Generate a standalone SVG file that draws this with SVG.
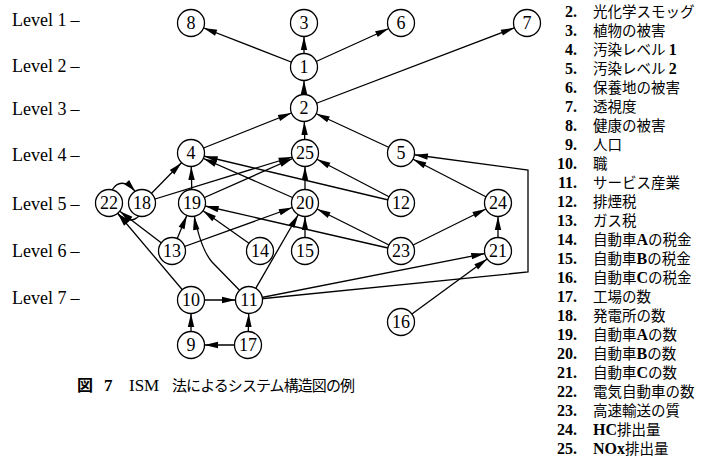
<svg xmlns="http://www.w3.org/2000/svg" width="719" height="458" viewBox="0 0 719 458">
<style>
.n circle{fill:#fff;stroke:#000;stroke-width:1.3}
.n text{font-family:"Liberation Serif",serif;font-size:18px;text-anchor:middle;fill:#000}
.lv{font-family:"Liberation Serif",serif;font-size:18px;fill:#000}
.e{fill:none;stroke:#000;stroke-width:1.3}
.num{font-family:"Liberation Serif",serif;font-size:16px;font-weight:bold;text-anchor:end;fill:#000}
.lab{font-family:"Noto Sans CJK JP",sans-serif;font-size:14.5px;fill:#000}
.lat{font-family:"Liberation Serif",serif;font-weight:bold;font-size:16px}
.cap{font-family:"Noto Sans CJK JP",sans-serif;font-size:15px;fill:#000}
</style>
<defs>
<marker id="a" markerUnits="userSpaceOnUse" markerWidth="30" markerHeight="7" refX="27" refY="3.5" orient="auto" overflow="visible"><path d="M0,0.3 L13.5,3.5 L0,6.7 Z" fill="#000"/></marker>
<marker id="b" markerUnits="userSpaceOnUse" markerWidth="13" markerHeight="7" refX="12" refY="3.5" orient="auto" overflow="visible"><path d="M0,0.3 L12,3.5 L0,6.7 Z" fill="#000"/></marker>
</defs>
<rect width="719" height="458" fill="#fff"/>
<g id="levels">
<text class="lv" x="12" y="26">Level 1<tspan dx="4">–</tspan></text>
<text class="lv" x="12" y="72">Level 2<tspan dx="4">–</tspan></text>
<text class="lv" x="12" y="115">Level 3<tspan dx="4">–</tspan></text>
<text class="lv" x="12" y="161">Level 4<tspan dx="4">–</tspan></text>
<text class="lv" x="12" y="210">Level 5<tspan dx="4">–</tspan></text>
<text class="lv" x="12" y="257">Level 6<tspan dx="4">–</tspan></text>
<text class="lv" x="12" y="304">Level 7<tspan dx="4">–</tspan></text>
</g>
<g id="connectors" class="e" marker-end="url(#a)">
<line x1="304" y1="67" x2="191" y2="23"/>
<line x1="304" y1="67" x2="304" y2="23"/>
<line x1="304" y1="67" x2="401" y2="23"/>
<line x1="304" y1="108" x2="304" y2="67"/>
<line x1="304" y1="108" x2="527" y2="23"/>
<line x1="191" y1="153" x2="304" y2="108"/>
<line x1="305" y1="153" x2="304" y2="108"/>
<line x1="401" y1="153" x2="304" y2="108"/>
<line x1="142" y1="203" x2="191" y2="153"/>
<line x1="192" y1="203" x2="191" y2="153"/>
<line x1="142" y1="203" x2="305" y2="153"/>
<line x1="192" y1="203" x2="305" y2="153"/>
<line x1="305" y1="203" x2="305" y2="153"/>
<line x1="401" y1="203" x2="305" y2="153"/>
<line x1="401" y1="203" x2="191" y2="153"/>
<line x1="305" y1="203" x2="191" y2="153"/>
<line x1="172" y1="251" x2="192" y2="203"/>
<line x1="172" y1="251" x2="109" y2="203"/>
<line x1="172" y1="251" x2="305" y2="203"/>
<line x1="260" y1="251" x2="192" y2="203"/>
<line x1="305" y1="251" x2="305" y2="203"/>
<line x1="401" y1="251" x2="192" y2="203"/>
<line x1="401" y1="251" x2="305" y2="203"/>
<line x1="401" y1="251" x2="498" y2="203"/>
<line x1="498" y1="203" x2="401" y2="153"/>
<line x1="498" y1="251" x2="498" y2="203"/>
<line x1="401" y1="322" x2="498" y2="251"/>
<line x1="249" y1="300" x2="498" y2="251"/>
<line x1="249" y1="300" x2="305" y2="203"/>
<line x1="191" y1="300" x2="109" y2="203"/>
<line x1="191" y1="300" x2="249" y2="300"/>
<line x1="191" y1="345" x2="191" y2="300"/>
<line x1="248" y1="345" x2="249" y2="300"/>
<line x1="248" y1="345" x2="191" y2="345"/>
<polyline points="249,300 528,272 528,170 401,153"/>
<path d="M249,300 L212,262 Q199,247 192,203"/>
<path d="M112,190 Q121,176 135,191" marker-end="url(#b)"/>
<path d="M139,216 Q130,225 118,214" marker-end="url(#b)"/>
</g>
<g id="n8" class="n"><circle cx="191" cy="23" r="13.5"/><text x="191" y="29">8</text></g>
<g id="n3" class="n"><circle cx="304" cy="23" r="13.5"/><text x="304" y="29">3</text></g>
<g id="n6" class="n"><circle cx="401" cy="23" r="13.5"/><text x="401" y="29">6</text></g>
<g id="n7" class="n"><circle cx="527" cy="23" r="13.5"/><text x="527" y="29">7</text></g>
<g id="n1" class="n"><circle cx="304" cy="67" r="13.5"/><text x="304" y="73">1</text></g>
<g id="n2" class="n"><circle cx="304" cy="108" r="13.5"/><text x="304" y="114">2</text></g>
<g id="n4" class="n"><circle cx="191" cy="153" r="13.5"/><text x="191" y="159">4</text></g>
<g id="n25" class="n"><circle cx="305" cy="153" r="13.5"/><text x="305" y="159">25</text></g>
<g id="n5" class="n"><circle cx="401" cy="153" r="13.5"/><text x="401" y="159">5</text></g>
<g id="n22" class="n"><circle cx="109" cy="203" r="13.5"/><text x="109" y="209">22</text></g>
<g id="n18" class="n"><circle cx="142" cy="203" r="13.5"/><text x="142" y="209">18</text></g>
<g id="n19" class="n"><circle cx="192" cy="203" r="13.5"/><text x="192" y="209">19</text></g>
<g id="n20" class="n"><circle cx="305" cy="203" r="13.5"/><text x="305" y="209">20</text></g>
<g id="n12" class="n"><circle cx="401" cy="203" r="13.5"/><text x="401" y="209">12</text></g>
<g id="n24" class="n"><circle cx="498" cy="203" r="13.5"/><text x="498" y="209">24</text></g>
<g id="n13" class="n"><circle cx="172" cy="251" r="13.5"/><text x="172" y="257">13</text></g>
<g id="n14" class="n"><circle cx="260" cy="251" r="13.5"/><text x="260" y="257">14</text></g>
<g id="n15" class="n"><circle cx="305" cy="251" r="13.5"/><text x="305" y="257">15</text></g>
<g id="n23" class="n"><circle cx="401" cy="251" r="13.5"/><text x="401" y="257">23</text></g>
<g id="n21" class="n"><circle cx="498" cy="251" r="13.5"/><text x="498" y="257">21</text></g>
<g id="n10" class="n"><circle cx="191" cy="300" r="13.5"/><text x="191" y="306">10</text></g>
<g id="n11" class="n"><circle cx="249" cy="300" r="13.5"/><text x="249" y="306">11</text></g>
<g id="n16" class="n"><circle cx="401" cy="322" r="13.5"/><text x="401" y="328">16</text></g>
<g id="n9" class="n"><circle cx="191" cy="345" r="13.5"/><text x="191" y="351">9</text></g>
<g id="n17" class="n"><circle cx="248" cy="345" r="13.5"/><text x="248" y="351">17</text></g>
<g id="caption">
<text class="cap" x="77" y="391"><tspan font-weight="bold" font-size="16">図</tspan><tspan x="104" font-family="Liberation Serif,serif" font-weight="bold" font-size="17">7</tspan><tspan x="129" font-family="Liberation Serif,serif" font-size="17">ISM</tspan><tspan x="172" textLength="183" lengthAdjust="spacing">法によるシステム構造図の例</tspan></text>
</g>
<g id="legend">
<text class="num" x="577" y="17">2.</text><text class="lab" x="593" y="17">光化学スモッグ</text>
<text class="num" x="577" y="36">3.</text><text class="lab" x="593" y="36">植物の被害</text>
<text class="num" x="577" y="55">4.</text><text class="lab" x="593" y="55">汚染レベル <tspan class="lat">1</tspan></text>
<text class="num" x="577" y="74">5.</text><text class="lab" x="593" y="74">汚染レベル <tspan class="lat">2</tspan></text>
<text class="num" x="577" y="93">6.</text><text class="lab" x="593" y="93">保養地の被害</text>
<text class="num" x="577" y="112">7.</text><text class="lab" x="593" y="112">透視度</text>
<text class="num" x="577" y="131">8.</text><text class="lab" x="593" y="131">健康の被害</text>
<text class="num" x="577" y="150">9.</text><text class="lab" x="593" y="150">人口</text>
<text class="num" x="577" y="169">10.</text><text class="lab" x="593" y="169">職</text>
<text class="num" x="577" y="188">11.</text><text class="lab" x="593" y="188">サービス産業</text>
<text class="num" x="577" y="207">12.</text><text class="lab" x="593" y="207">排煙税</text>
<text class="num" x="577" y="226">13.</text><text class="lab" x="593" y="226">ガス税</text>
<text class="num" x="577" y="245">14.</text><text class="lab" x="593" y="245">自動車<tspan class="lat">A</tspan>の税金</text>
<text class="num" x="577" y="264">15.</text><text class="lab" x="593" y="264">自動車<tspan class="lat">B</tspan>の税金</text>
<text class="num" x="577" y="283">16.</text><text class="lab" x="593" y="283">自動車<tspan class="lat">C</tspan>の税金</text>
<text class="num" x="577" y="302">17.</text><text class="lab" x="593" y="302">工場の数</text>
<text class="num" x="577" y="321">18.</text><text class="lab" x="593" y="321">発電所の数</text>
<text class="num" x="577" y="340">19.</text><text class="lab" x="593" y="340">自動車<tspan class="lat">A</tspan>の数</text>
<text class="num" x="577" y="359">20.</text><text class="lab" x="593" y="359">自動車<tspan class="lat">B</tspan>の数</text>
<text class="num" x="577" y="378">21.</text><text class="lab" x="593" y="378">自動車<tspan class="lat">C</tspan>の数</text>
<text class="num" x="577" y="397">22.</text><text class="lab" x="593" y="397">電気自動車の数</text>
<text class="num" x="577" y="416">23.</text><text class="lab" x="593" y="416">高速輸送の質</text>
<text class="num" x="577" y="435">24.</text><text class="lab" x="593" y="435"><tspan class="lat">HC</tspan>排出量</text>
<text class="num" x="577" y="454">25.</text><text class="lab" x="593" y="454"><tspan class="lat">NOx</tspan>排出量</text>
</g>
</svg>
